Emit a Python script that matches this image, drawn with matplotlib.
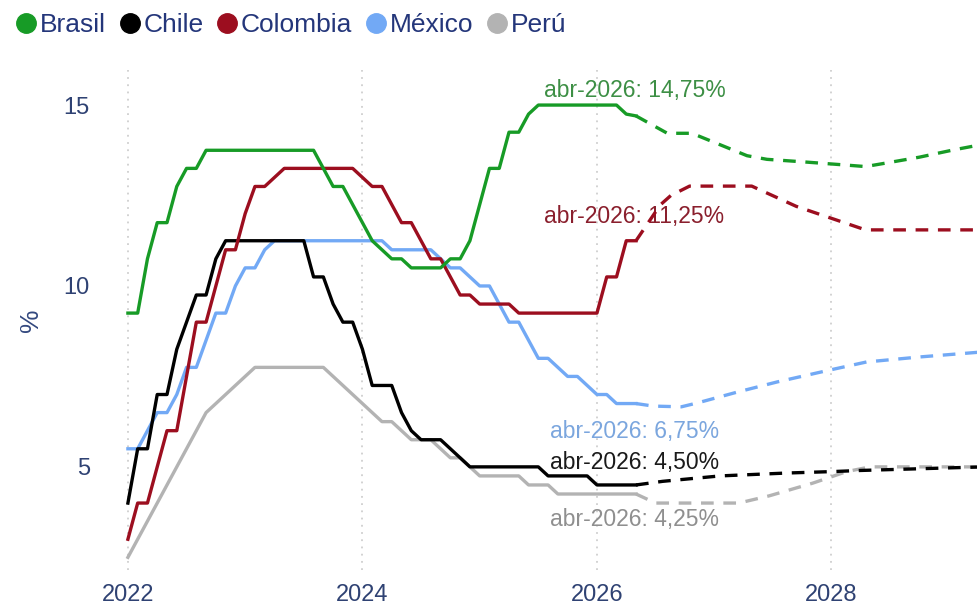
import matplotlib.pyplot as plt
import numpy as np
from matplotlib.lines import Line2D

plt.rcParams['font.family'] = ['Liberation Sans', 'DejaVu Sans']

# monthly policy rates, Jan 2022 .. May 2026
months = 2022 + np.arange(53) / 12

brasil = [9.25, 9.25, 10.75, 11.75, 11.75, 12.75, 13.25, 13.25, 13.75, 13.75, 13.75, 13.75,
          13.75, 13.75, 13.75, 13.75, 13.75, 13.75, 13.75, 13.75, 13.25, 12.75, 12.75, 12.25,
          11.75, 11.25, 11.0, 10.75, 10.75, 10.5, 10.5, 10.5, 10.5, 10.75, 10.75, 11.25,
          12.25, 13.25, 13.25, 14.25, 14.25, 14.75, 15.0, 15.0, 15.0, 15.0, 15.0, 15.0,
          15.0, 15.0, 15.0, 14.75, 14.7]
chile = [4.0, 5.5, 5.5, 7.0, 7.0, 8.25, 9.0, 9.75, 9.75, 10.75, 11.25, 11.25,
         11.25, 11.25, 11.25, 11.25, 11.25, 11.25, 11.25, 10.25, 10.25, 9.5, 9.0, 9.0,
         8.25, 7.25, 7.25, 7.25, 6.5, 6.0, 5.75, 5.75, 5.75, 5.5, 5.25, 5.0,
         5.0, 5.0, 5.0, 5.0, 5.0, 5.0, 5.0, 4.75, 4.75, 4.75, 4.75, 4.75,
         4.5, 4.5, 4.5, 4.5, 4.5]
colombia = [3.0, 4.0, 4.0, 5.0, 6.0, 6.0, 7.5, 9.0, 9.0, 10.0, 11.0, 11.0,
            12.0, 12.75, 12.75, 13.0, 13.25, 13.25, 13.25, 13.25, 13.25, 13.25, 13.25, 13.25,
            13.0, 12.75, 12.75, 12.25, 11.75, 11.75, 11.25, 10.75, 10.75, 10.25, 9.75, 9.75,
            9.5, 9.5, 9.5, 9.5, 9.25, 9.25, 9.25, 9.25, 9.25, 9.25, 9.25, 9.25,
            9.25, 10.25, 10.25, 11.25, 11.25]
mexico = [5.5, 5.5, 6.0, 6.5, 6.5, 7.0, 7.75, 7.75, 8.5, 9.25, 9.25, 10.0,
          10.5, 10.5, 11.0, 11.25, 11.25, 11.25, 11.25, 11.25, 11.25, 11.25, 11.25, 11.25,
          11.25, 11.25, 11.25, 11.0, 11.0, 11.0, 11.0, 11.0, 10.75, 10.5, 10.5, 10.25,
          10.0, 10.0, 9.5, 9.0, 9.0, 8.5, 8.0, 8.0, 7.75, 7.5, 7.5, 7.25,
          7.0, 7.0, 6.75, 6.75, 6.75]
peru = [2.5, 3.0, 3.5, 4.0, 4.5, 5.0, 5.5, 6.0, 6.5, 6.75, 7.0, 7.25,
        7.5, 7.75, 7.75, 7.75, 7.75, 7.75, 7.75, 7.75, 7.75, 7.5, 7.25, 7.0,
        6.75, 6.5, 6.25, 6.25, 6.0, 5.75, 5.75, 5.75, 5.5, 5.25, 5.25, 5.0,
        4.75, 4.75, 4.75, 4.75, 4.75, 4.5, 4.5, 4.5, 4.25, 4.25, 4.25, 4.25,
        4.25, 4.25, 4.25, 4.25, 4.25]

# expected path (dashed)
brasil_fx = [2026.333, 2026.6, 2026.81, 2027.28, 2027.45, 2027.76, 2028.09, 2028.29, 2028.47, 2028.75, 2029.04, 2029.3]
brasil_fy = [14.7, 14.22, 14.22, 13.6, 13.5, 13.43, 13.35, 13.3, 13.4, 13.56, 13.76, 13.92]
chile_fx = [2026.333, 2026.56, 2027.05, 2027.62, 2028.01, 2028.24, 2029.3]
chile_fy = [4.5, 4.6, 4.75, 4.83, 4.87, 4.9, 5.0]
colombia_fx = [2026.333, 2026.54, 2026.63, 2026.79, 2027.32, 2027.7, 2028.29, 2029.3]
colombia_fy = [11.25, 12.24, 12.5, 12.76, 12.76, 12.2, 11.55, 11.55]
mexico_fx = [2026.333, 2026.48, 2026.72, 2026.86, 2027.2, 2027.54, 2027.99, 2028.3, 2028.76, 2029.3]
mexico_fy = [6.75, 6.68, 6.66, 6.77, 7.07, 7.35, 7.68, 7.9, 8.04, 8.18]
peru_fx = [2026.333, 2026.5, 2027.21, 2027.47, 2027.84, 2028.13, 2028.33, 2029.3]
peru_fy = [4.25, 4.0, 4.0, 4.2, 4.55, 4.87, 5.0, 5.0]

names = ['Brasil', 'Chile', 'Colombia', 'México', 'Perú']
colors = ['#179b26', '#000000', '#9c0e1f', '#72a9f5', '#b3b3b3']
text_colors = ['#3d8f45', '#1a1a1a', '#8a1f2d', '#7ba6de', '#8f8f8f']
actual = [brasil, chile, colombia, mexico, peru]
fx = [brasil_fx, chile_fx, colombia_fx, mexico_fx, peru_fx]
fy = [brasil_fy, chile_fy, colombia_fy, mexico_fy, peru_fy]
notes = ['abr-2026: 14,75%', 'abr-2026: 4,50%', 'abr-2026: 11,25%',
         'abr-2026: 6,75%', 'abr-2026: 4,25%']
note_y = [15.41, 5.11, 11.93, 5.99, 3.54]

navy = '#2f4273'

fig = plt.figure(figsize=(9.77, 6.10), dpi=100)
ax = fig.add_axes([0.1146, 0.0656, 0.8854, 0.8197])

order = [4, 3, 1, 2, 0]
for i in order:
    ax.plot(months, actual[i], color=colors[i], lw=2.4, zorder=3)
    ax.plot(fx[i], fy[i], color=colors[i], lw=2.4, ls=(0, (3.8, 2.9)), zorder=3)
    ax.text(2026.32, note_y[i], notes[i], color=text_colors[i], fontsize=16.5,
            ha='center', va='center', zorder=2)

ax.set_xlim(2021.864, 2029.241)
ax.set_ylim(2.15, 15.97)
ax.set_xticks([2022, 2024, 2026, 2028])
ax.set_xticklabels(['2022', '2024', '2026', '2028'])
ax.set_yticks([5, 10, 15])
ax.tick_params(length=0, labelsize=17, colors=navy)
ax.tick_params(axis='y', pad=16)
ax.tick_params(axis='x', pad=10)
ax.grid(axis='x', linestyle=(0, (1, 3)), color='#cfcfcf', lw=1.3)
for s in ax.spines.values():
    s.set_visible(False)
ax.set_ylabel('%', fontsize=19, color='#33487f', labelpad=15)

handles = [Line2D([], [], ls='none', marker='o', ms=14, mfc=c, mec=c) for c in colors]
fig.legend(handles, names, loc='upper left', bbox_to_anchor=(0.016, 0.978), ncol=5,
           frameon=False, fontsize=19, handlelength=0.8, handletextpad=0.12,
           columnspacing=0.5, borderaxespad=0, borderpad=0, labelcolor='#24367a')

fig.savefig('out.png', dpi=100)
